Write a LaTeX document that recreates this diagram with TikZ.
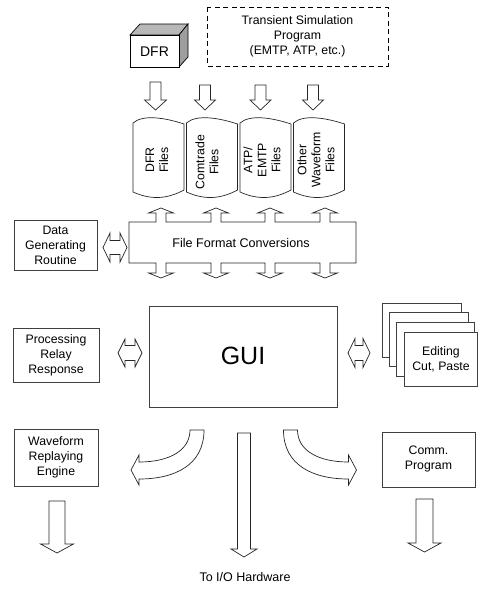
\documentclass[tikz,border=0pt]{standalone}
\usepackage{fontspec}
\setmainfont{Liberation Sans}
\newcommand\blockdown[6]{\draw[arr] (#1-#5,#2) -- (#1+#5,#2) -- (#1+#5,#3) -- (#1+#6,#3) -- (#1,#4) -- (#1-#6,#3) -- (#1-#5,#3) -- cycle;}
\newcommand\dblarrow[6]{\draw[arr] (#1,#3) -- (#1+#4,#3-#6) -- (#1+#4,#3-#5) -- (#2-#4,#3-#5) -- (#2-#4,#3-#6) -- (#2,#3) -- (#2-#4,#3+#6) -- (#2-#4,#3+#5) -- (#1+#4,#3+#5) -- (#1+#4,#3+#6) -- cycle;}
\newcommand\filesh[2]{\draw[arr] (#1,123) .. controls (#1+10,114) and (#2-18,118) .. (#2,124) -- (#2,190) .. controls (#2-15,198) and (#1+20,201) .. (#1,192) -- cycle;}
\begin{document}
\begin{tikzpicture}[x=1pt,y=-1pt,
  arr/.style={draw=black!85,line width=0.7pt,fill=white,line join=miter},
  boxst/.style={draw=black!75,line width=0.8pt,fill=white},
  txt/.style={font=\fontsize{12.3}{15}\selectfont,align=center,inner sep=0pt},
  ftxt/.style={font=\fontsize{12.3}{14}\selectfont,align=center,inner sep=0pt,rotate=90}]
\useasboundingbox (0,0) rectangle (478,592);
% DFR 3D box
\draw[line width=0.7pt,fill=black!28] (130,35) -- (140,24) -- (188,24) -- (179,35) -- cycle;
\draw[line width=0.7pt,fill=black!38] (179,35) -- (188,24) -- (188,57) -- (179,67) -- cycle;
\draw[line width=0.7pt,fill=white] (130,35) rectangle (179,67);
\node[txt,font=\fontsize{14}{15}\selectfont] (dfr) at (154.5,52) {DFR};
% Transient simulation
\draw[line width=0.7pt,dash pattern=on 5pt off 3.5pt] (207,7) rectangle (388,66);
\node[txt] (tsp) at (297.5,36) {Transient Simulation\\Program\\(EMTP, ATP, etc.)};
% top arrows
\blockdown{155.5}{82}{100}{110}{5.5}{11}
\blockdown{205}{85}{100}{110}{5.5}{10.5}
\blockdown{260.5}{85}{100}{110}{5.5}{10.5}
\blockdown{313}{85}{100}{110}{5.5}{10.5}
% files
\filesh{133}{184}
\filesh{186.5}{237.5}
\filesh{240}{291}
\filesh{293.5}{344.5}
\node[ftxt] (f1) at (157,160) {DFR\\Files};
\node[ftxt] (f2) at (207,162) {Comtrade\\Files};
\node[ftxt] (f3) at (262,160) {ATP/\\EMTP\\Files};
\node[ftxt] (f4) at (316,160) {Other\\Waveform\\Files};
% file format conversions
\draw[arr] (129,222)
  \foreach \c in {161,216,270,325} { -- (\c-5,222) -- (\c-5,213) -- (\c-12.5,213) -- (\c,208) -- (\c+12.5,213) -- (\c+5,213) -- (\c+5,222) }
  -- (356,222) -- (356,263)
  \foreach \c in {325,270,216,161} { -- (\c+5,263) -- (\c+5,273) -- (\c+12.5,273) -- (\c,278) -- (\c-12.5,273) -- (\c-5,273) -- (\c-5,263) }
  -- (129,263) -- cycle;
\node[txt,font=\fontsize{12.6}{15}\selectfont] (ffc) at (241,243) {File Format Conversions};
% data generating routine
\draw[boxst] (14,220) rectangle (97,270);
\node[txt] (dgr) at (55.5,245) {Data\\Generating\\Routine};
\dblarrow{103}{127}{247.5}{7}{7}{14.5}
% GUI
\draw[boxst] (149,306) rectangle (337,407);
\node[txt,font=\fontsize{25}{27}\selectfont] (gui) at (243,356) {GUI};
% processing relay response
\draw[boxst] (13,328) rectangle (99,382);
\node[txt] (prr) at (56,355) {Processing\\Relay\\Response};
\dblarrow{118}{142}{353}{7}{7.5}{14}
\dblarrow{348}{370}{353}{7}{7.5}{14.5}
% stacked cards
\draw[boxst] (382,303) rectangle (461,357);
\draw[boxst] (389,312.5) rectangle (468,366.5);
\draw[boxst] (396,322) rectangle (474.5,376);
\draw[boxst] (404,332) rectangle (477.5,386);
\node[txt] (edit) at (441,359.5) {Editing\\Cut, Paste};
% waveform replaying engine
\draw[boxst] (14,429) rectangle (98,486);
\node[txt] (wre) at (56,457.5) {Waveform\\Replaying\\Engine};
\blockdown{57}{501}{544}{553}{8}{16.5}
% comm program
\draw[boxst] (382,432) rectangle (475,487);
\node[txt] (comm) at (428.5,459) {Comm.\\Program};
\blockdown{424.5}{499}{543}{552}{8.5}{16.5}
% curved arrows
\draw[arr] (190,430) -- (204,430) .. controls (204,465) and (175,479) .. (139,479) -- (139,485) -- (131,470) -- (139,455) -- (139,462) .. controls (170,462) and (190,450) .. (190,430) -- cycle;
\draw[arr] (297.5,430) -- (283.5,430) .. controls (283.5,465) and (312.5,479) .. (348.5,479) -- (348.5,485) -- (356.5,470) -- (348.5,455) -- (348.5,462) .. controls (317.5,462) and (297.5,450) .. (297.5,430) -- cycle;
% big arrow to I/O
\blockdown{244}{433}{549}{557}{6.5}{13}
\node[txt,font=\fontsize{12.5}{15}\selectfont] (io) at (245,577) {To I/O Hardware};
\end{tikzpicture}
\end{document}
